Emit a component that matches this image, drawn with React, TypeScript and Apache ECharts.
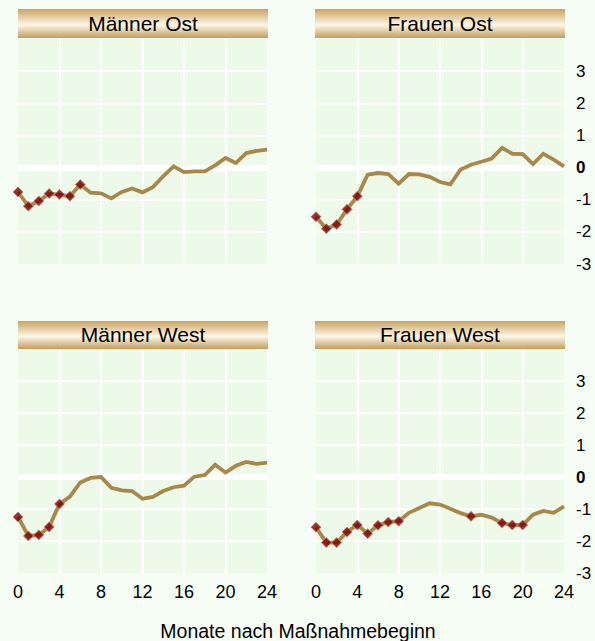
import React, { useEffect, useRef } from 'react';
import * as echarts from 'echarts';

const months = [0, 1, 2, 3, 4, 5, 6, 7, 8, 9, 10, 11, 12, 13, 14, 15, 16, 17, 18, 19, 20, 21, 22, 23, 24];
const panelTitles = ['Männer Ost', 'Frauen Ost', 'Männer West', 'Frauen West'];
const maennerOst = [-0.76, -1.2, -1.04, -0.81, -0.84, -0.89, -0.53, -0.78, -0.8, -0.96, -0.76, -0.65, -0.77, -0.61, -0.27, 0.04, -0.14, -0.12, -0.12, 0.07, 0.3, 0.14, 0.45, 0.52, 0.56];
const frauenOst = [-1.53, -1.9, -1.77, -1.3, -0.89, -0.22, -0.17, -0.2, -0.5, -0.2, -0.21, -0.29, -0.45, -0.52, -0.06, 0.09, 0.18, 0.28, 0.61, 0.43, 0.42, 0.11, 0.43, 0.25, 0.04];
const maennerWest = [-1.25, -1.84, -1.81, -1.56, -0.84, -0.61, -0.17, -0.03, 0.0, -0.34, -0.42, -0.44, -0.68, -0.62, -0.44, -0.32, -0.27, 0.01, 0.06, 0.38, 0.14, 0.35, 0.47, 0.41, 0.45];
const frauenWest = [-1.57, -2.05, -2.05, -1.72, -1.5, -1.77, -1.51, -1.41, -1.38, -1.12, -0.97, -0.82, -0.86, -0.99, -1.13, -1.23, -1.18, -1.27, -1.44, -1.5, -1.5, -1.18, -1.06, -1.12, -0.92];
const maennerOstMarked = [0, 1, 2, 3, 4, 5, 6];
const frauenOstMarked = [0, 1, 2, 3, 4];
const maennerWestMarked = [0, 1, 2, 3, 4];
const frauenWestMarked = [0, 1, 2, 3, 4, 5, 6, 7, 8, 15, 18, 19, 20];
const xTicks = [0, 4, 8, 12, 16, 20, 24];
const yTicks = [-3, -2, -1, 0, 1, 2, 3, 4];
const xAxisTitle = 'Monate nach Maßnahmebeginn';

const seriesValues = [maennerOst, frauenOst, maennerWest, frauenWest];
const markedIdx = [maennerOstMarked, frauenOstMarked, maennerWestMarked, frauenWestMarked];

const FONT = '"Liberation Sans", Arial, Helvetica, sans-serif';
const PAGE_BG = '#f6fdf5';
const PLOT_BG = '#edf9e9';
const LINE_COLOR = '#a8884a';

const grids = [
  { left: 18, top: 39, width: 249, height: 225 },
  { left: 316, top: 39, width: 248, height: 225 },
  { left: 18, top: 349, width: 249, height: 224 },
  { left: 316, top: 349, width: 248, height: 224 },
];
const headers = [
  { x: 18, y: 9, w: 250, h: 29 },
  { x: 315, y: 9, w: 250, h: 29 },
  { x: 18, y: 321, w: 250, h: 28 },
  { x: 315, y: 321, w: 250, h: 28 },
];

export default function App() {
  const ref = useRef<HTMLDivElement>(null);
  useEffect(() => {
    document.body.style.margin = '0';
    document.body.style.background = PAGE_BG;
    const chart = echarts.init(ref.current!, null, { renderer: 'svg' });

    const xAxes = grids.map((_, i) => ({
      type: 'value',
      gridIndex: i,
      min: xTicks[0],
      max: xTicks[xTicks.length - 1],
      interval: 4,
      axisLine: { show: false },
      axisTick: { show: false },
      axisLabel: {
        show: i >= 2,
        color: '#000',
        fontSize: 18,
        fontFamily: FONT,
        margin: 10,
      },
      splitLine: { show: true, showMinLine: false, showMaxLine: false, lineStyle: { color: '#ffffff', width: 2 } },
    }));
    const yAxes = grids.map((_, i) => ({
      type: 'value',
      gridIndex: i,
      position: 'right',
      min: yTicks[0],
      max: yTicks[yTicks.length - 1],
      interval: 1,
      axisLine: { show: false },
      axisTick: { show: false },
      axisLabel: {
        show: i % 2 === 1,
        color: '#000',
        fontSize: 17,
        fontFamily: FONT,
        margin: 12,
        align: 'left',
        formatter: (v: number) => (v === 4 ? '' : v === 0 ? '{b|0}' : String(v)),
        rich: { b: { fontWeight: 'bold', fontSize: 17, fontFamily: FONT, color: '#000' } },
      },
      splitLine: { show: true, showMinLine: false, showMaxLine: false, lineStyle: { color: '#ffffff', width: 2 } },
    }));

    const series: any[] = [];
    seriesValues.forEach((vals, i) => {
      series.push({
        type: 'line',
        xAxisIndex: i,
        yAxisIndex: i,
        data: months.map((m, k) => [m, vals[k]]),
        showSymbol: false,
        symbol: 'none',
        lineStyle: { color: LINE_COLOR, width: 3.8, join: 'miter' },
        z: 3,
        markLine: {
          silent: true,
          symbol: 'none',
          z: 1,
          label: { show: false },
          lineStyle: { color: '#ffffff', width: 6, type: 'solid' },
          data: [{ yAxis: 0 }],
        },
      });
      series.push({
        type: 'scatter',
        xAxisIndex: i,
        yAxisIndex: i,
        data: markedIdx[i].map((k) => [months[k], vals[k]]),
        symbol: 'diamond',
        symbolSize: 10,
        itemStyle: { color: '#7c0000', borderColor: '#c27a7a', borderWidth: 1 },
        z: 4,
      });
    });

    const graphics: any[] = [];
    headers.forEach((h, i) => {
      graphics.push({
        type: 'rect',
        shape: { x: h.x, y: h.y, width: h.w, height: h.h },
        style: {
          fill: new echarts.graphic.LinearGradient(0, 0, 0, 1, [
            { offset: 0, color: '#c9a360' },
            { offset: 0.55, color: '#fdf6e6' },
            { offset: 1, color: '#c49d5c' },
          ]),
        },
        z: 10,
      });
      graphics.push({
        type: 'text',
        x: h.x + h.w / 2,
        y: h.y + h.h / 2 - 0.5,
        style: {
          text: panelTitles[i],
          fill: '#000',
          fontSize: 21,
          fontFamily: FONT,
          textAlign: 'center',
          textVerticalAlign: 'middle',
        },
        z: 11,
      });
    });
    graphics.push({
      type: 'text',
      x: 298,
      y: 631,
      style: {
        text: xAxisTitle,
        fill: '#000',
        fontSize: 19.5,
        fontFamily: FONT,
        textAlign: 'center',
        textVerticalAlign: 'middle',
      },
    });

    chart.setOption({
      animation: false,
      backgroundColor: PAGE_BG,
      grid: grids.map((g) => ({ ...g, show: true, backgroundColor: PLOT_BG, borderWidth: 0, containLabel: false })),
      xAxis: xAxes,
      yAxis: yAxes,
      series,
      graphic: graphics,
    });
    return () => chart.dispose();
  }, []);
  return <div ref={ref} style={{ width: 595, height: 641 }} />;
}
